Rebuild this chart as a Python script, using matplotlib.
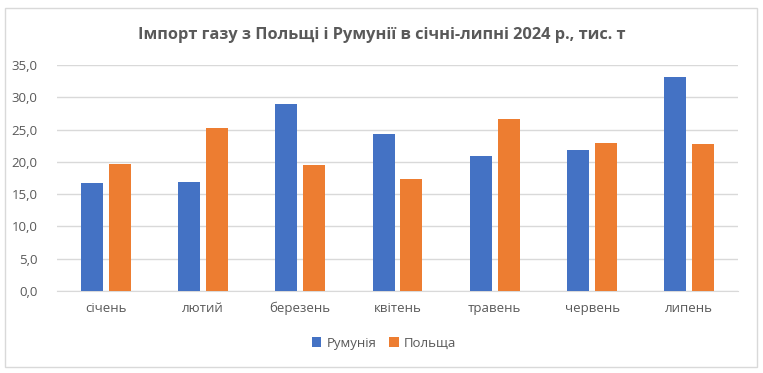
import matplotlib.pyplot as plt
import numpy as np

months = ['січень', 'лютий', 'березень', 'квітень', 'травень', 'червень', 'липень']
romania = [16.7, 16.9, 29.0, 24.3, 20.9, 21.8, 33.1]
poland = [19.7, 25.3, 19.5, 17.3, 26.6, 22.9, 22.8]
yticks = [0, 5, 10, 15, 20, 25, 30, 35]

plt.rcParams['font.family'] = ['Open Sans', 'DejaVu Sans']

fig = plt.figure(figsize=(7.63, 3.73), dpi=100)
ax = fig.add_axes([57 / 763, 1 - 291 / 373, 681 / 763, 226 / 373])

x = np.arange(len(months))
w = 0.226
ax.bar(x - 0.143, romania, w, color='#4472C4', label='Румунія', zorder=3)
ax.bar(x + 0.143, poland, w, color='#ED7D31', label='Польща', zorder=3)

ax.set_xlim(-0.5, len(months) - 0.5)
ax.set_ylim(0, 35)
ax.set_yticks(yticks)
ax.set_yticklabels([f'{v:.1f}'.replace('.', ',') for v in yticks])
ax.set_xticks(x)
ax.set_xticklabels(months)
ax.tick_params(axis='both', length=0, labelsize=9.5, colors='#595959')
ax.tick_params(axis='x', pad=8)
ax.tick_params(axis='y', pad=14)
ax.grid(axis='y', color='#d9d9d9', linewidth=1)
for s in ['top', 'right', 'left']:
    ax.spines[s].set_visible(False)
ax.spines['bottom'].set_color('#d9d9d9')

fig.text(0.5, 1 - 35 / 373, 'Імпорт газу з Польщі і Румунії в січні-липні 2024 р., тис. т',
         ha='center', va='center', fontsize=11.8, fontweight='bold', color='#595959')

fig.legend(loc='center', bbox_to_anchor=(384 / 763, 1 - 343 / 373), ncol=2, frameon=False,
           fontsize=9.5, labelcolor='#595959', handlelength=0.7, handleheight=0.7,
           handletextpad=0.4, columnspacing=1.0)

# рамка діаграми
border = plt.Rectangle((5 / 763, 1 - 367 / 373), 752 / 763, 359 / 373, transform=fig.transFigure,
                       fill=False, edgecolor='#d9d9d9', linewidth=1)
fig.patches.append(border)

fig.savefig('out.png', dpi=100)
